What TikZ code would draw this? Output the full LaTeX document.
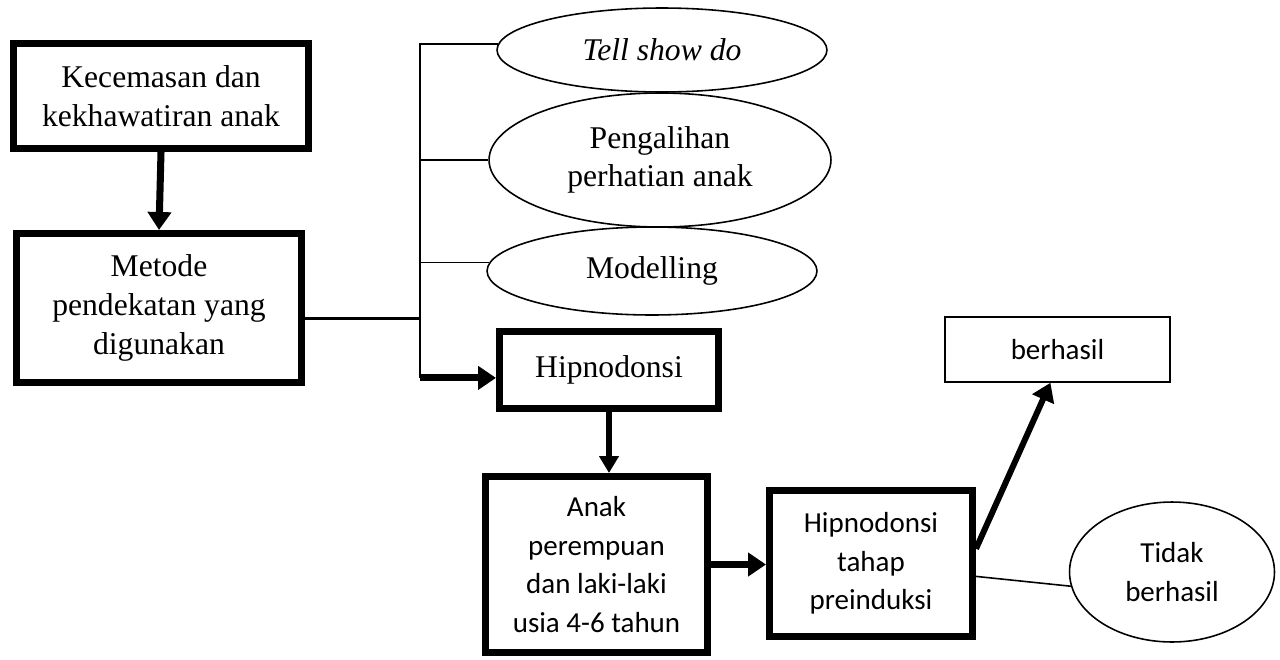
\documentclass[tikz,border=0pt]{standalone}
\usepackage{fontspec}
\setmainfont{Liberation Serif}
\newfontfamily\calibri{Carlito}
\usetikzlibrary{arrows.meta}
\usetikzlibrary{shapes.geometric}

\begin{document}
\begin{tikzpicture}[x=0.02cm, y=-0.02cm,
    bigbox/.style={rectangle, draw, line width=4pt, align=center, inner sep=0pt, font=\fontsize{18}{22}\selectfont},
    smallbox/.style={rectangle, draw, line width=4pt, align=center, inner sep=0pt, font=\calibri\fontsize{16.5}{22}\selectfont},
    oval/.style={ellipse, draw, line width=0.9pt, align=center, inner sep=0pt, font=\fontsize{18}{22}\selectfont},
    arr/.style={line width=4pt, -{Triangle[width=0.46cm, length=0.36cm]}}]

    \useasboundingbox (0,0) rectangle (1280,659);

    % Nodes
    \node[bigbox, minimum width=5.9cm, minimum height=2.1cm] (kec) at (161,96) {Kecemasan dan\\kekhawatiran anak};
    \node[bigbox, minimum width=5.7cm, minimum height=2.98cm] (met) at (159,308) {Metode\\pendekatan yang\\digunakan};
    \node[oval, minimum width=6.6cm, minimum height=1.68cm] (tell) at (662,50) {\textit{Tell show do}};
    \node[oval, minimum width=6.84cm, minimum height=2.68cm] (peng) at (660,160) {Pengalihan\\perhatian anak};
    \node[oval, minimum width=6.6cm, minimum height=1.76cm] (model) at (652,271) {Modelling};
    \node[bigbox, minimum width=4.38cm, minimum height=1.54cm] (hip) at (609,370) {Hipnodonsi};
    \node[smallbox, minimum width=4.44cm, minimum height=3.52cm] (anak) at (596.5,564.5) {Anak\\perempuan\\dan laki-laki\\usia 4-6 tahun};
    \node[smallbox, minimum width=4.06cm, minimum height=2.92cm] (pre) at (871,563.5) {Hipnodonsi\\tahap\\preinduksi};
    \node[smallbox, line width=0.9pt, minimum width=4.5cm, minimum height=1.3cm] (ber) at (1057.5,349.5) {berhasil};
    \node[oval, font=\calibri\fontsize{16.5}{22}\selectfont, minimum width=4.1cm, minimum height=2.8cm] (tidak) at (1172,572) {Tidak\\berhasil};
    \coordinate (spine) at (420,43);

    % Connectors
    \draw[arr] (kec.south) -- (met.north);
    \draw[line width=1.8pt] (met.-4) -- (met.-4 -| spine);
    \draw[line width=0.9pt] (spine) -- (hip.184 -| spine);
    \draw[line width=0.9pt] (tell.178 -| spine) -- (tell.178);
    \draw[line width=0.9pt] (peng.west -| spine) -- (peng.west);
    \draw[line width=0.9pt] (model.177 -| spine) -- (model.177);
    \draw[arr] (hip.184 -| spine) -- (hip.184);
    \draw[arr, line width=3.4pt, -{Triangle[width=0.38cm, length=0.34cm]}] (hip.south) -- (hip.south |- anak.north);
    \draw[arr] (anak.east) -- (anak.east -| pre.west);
    \draw[arr, line width=3.4pt] (pre.8) -- (ber.258);
    \draw[line width=0.9pt] (pre.-7) -- (tidak.188);

\end{tikzpicture}
\end{document}
